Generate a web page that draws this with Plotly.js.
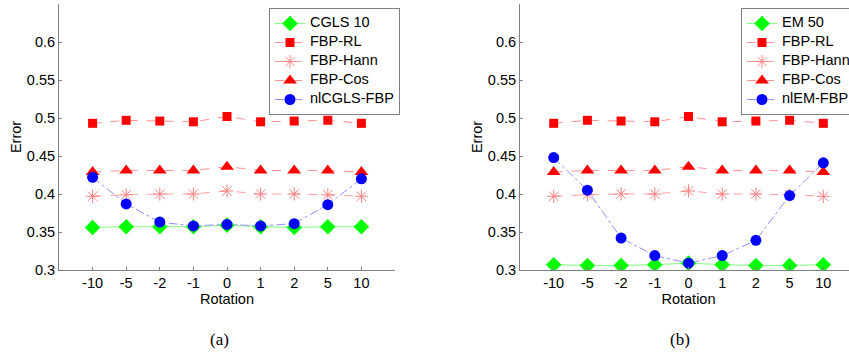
<!DOCTYPE html>
<html>
<head>
<meta charset="utf-8">
<script src="https://cdn.plot.ly/plotly-3.0.1.min.js"></script>
<style>
html,body{margin:0;padding:0;overflow:hidden;background:#fff;}
#chart{width:860px;height:354px;}
</style>
</head>
<body>
<div id="chart"></div>
<script>
const rotations = ['-10','-5','-2','-1','0','1','2','5','10'];

// Panel (a)
const namesA   = ['CGLS 10','FBP-RL','FBP-Hann','FBP-Cos','nlCGLS-FBP'];
const cgls10   = [0.356,0.357,0.357,0.357,0.359,0.357,0.356,0.357,0.357];
const fbpRL_a  = [0.493,0.497,0.496,0.495,0.502,0.495,0.496,0.497,0.493];
const fbpHann_a= [0.397,0.399,0.400,0.400,0.404,0.400,0.400,0.399,0.397];
const fbpCos_a = [0.429,0.431,0.431,0.431,0.436,0.431,0.431,0.431,0.429];
const nlCGLS   = [0.422,0.387,0.363,0.358,0.360,0.358,0.361,0.386,0.420];

// Panel (b)
const namesB   = ['EM 50','FBP-RL','FBP-Hann','FBP-Cos','nlEM-FBP'];
const em50     = [0.307,0.306,0.306,0.307,0.309,0.307,0.306,0.306,0.307];
const fbpRL_b  = [0.493,0.497,0.496,0.495,0.502,0.495,0.496,0.497,0.493];
const fbpHann_b= [0.397,0.399,0.400,0.400,0.404,0.400,0.400,0.399,0.397];
const fbpCos_b = [0.429,0.431,0.431,0.431,0.436,0.431,0.431,0.431,0.429];
const nlEM     = [0.448,0.405,0.342,0.319,0.309,0.319,0.339,0.398,0.441];

function series(panel, names, data) {
  const xa = panel === 0 ? 'x' : 'x2';
  const ya = panel === 0 ? 'y' : 'y2';
  const lg = panel === 0 ? 'legend' : 'legend2';
  const styles = [
    {line:{color:'#80ff80',width:1,dash:'solid'}, marker:{symbol:'diamond',size:12,color:'#00ff00'}},
    {line:{color:'#ff9090',width:1,dash:'dash'}, marker:{symbol:'square',size:9,color:'#ff0000'}},
    {line:{color:'#ffa0a0',width:1,dash:'dash'}, marker:{symbol:'asterisk-open',size:11,color:'#ff8080',line:{color:'#ff8080',width:1}}},
    {line:{color:'#ff9090',width:1,dash:'dash'}, marker:{symbol:'triangle-up',size:12,color:'#ff0000'}},
    {line:{color:'#9090ff',width:1,dash:'dashdot'}, marker:{symbol:'circle',size:11,color:'#0000ff'}}
  ];
  return data.map((d,i)=>({
    type:'scatter', mode:'lines+markers', x:rotations, y:d,
    name:'<span style="font-size:14.5px">' + names[i] + '</span>',
    xaxis:xa, yaxis:ya, legend:lg, line:styles[i].line, marker:styles[i].marker
  }));
}

const traces = [].concat(
  series(0, namesA, [cgls10,fbpRL_a,fbpHann_a,fbpCos_a,nlCGLS]),
  series(1, namesB, [em50,fbpRL_b,fbpHann_b,fbpCos_b,nlEM])
);

const W = 860, H = 354;
const tickFont = {family:'Liberation Sans, Arial, sans-serif', size:14.5, color:'#000'};
function xax(domain, anchor){
  return {domain:domain, anchor:anchor, type:'category', range:[-1,9],
    showline:true, linecolor:'#808080', linewidth:1, mirror:false,
    ticks:'inside', ticklen:3, tickcolor:'#808080', showgrid:false, zeroline:false,
    tickfont:tickFont, title:{text:'Rotation', font:tickFont, standoff:1}};
}
function yax(anchor){
  return {domain:[(H-270)/H,(H-4)/H], anchor:anchor, range:[0.3,0.65],
    tickvals:[0.3,0.35,0.4,0.45,0.5,0.55,0.6], ticktext:['0.3','0.35','0.4','0.45','0.5','0.55','0.6'],
    showline:true, linecolor:'#808080', linewidth:1, mirror:false,
    ticks:'inside', ticklen:3, tickcolor:'#808080', showgrid:false, zeroline:false,
    tickfont:tickFont, title:{text:'Error', font:tickFont, standoff:1}};
}
const legFont = {family:'Liberation Sans, Arial, sans-serif', size:10, color:'#000'};
const layout = {
  width:W, height:H, margin:{l:0,r:0,t:0,b:0},
  paper_bgcolor:'#fff', plot_bgcolor:'#fff', showlegend:true,
  xaxis: xax([59/W,395/W],'y'),
  yaxis: yax('x'),
  xaxis2: xax([520/W,857/W],'y2'),
  yaxis2: yax('x2'),
  legend:{x:269/W, y:(H-8)/H, xanchor:'left', yanchor:'top', bgcolor:'#fff',
    bordercolor:'#808080', borderwidth:1, font:legFont, tracegroupgap:0, itemwidth:30},
  legend2:{x:741/W, y:(H-8)/H, xanchor:'left', yanchor:'top', bgcolor:'#fff',
    bordercolor:'#808080', borderwidth:1, font:legFont, tracegroupgap:0, itemwidth:30},
  annotations:[
    {xref:'paper', yref:'paper', x:219/W, y:(H-339)/H, text:'(a)', showarrow:false,
     xanchor:'center', yanchor:'middle', font:{family:'Liberation Serif, Times New Roman, serif', size:17, color:'#000'}},
    {xref:'paper', yref:'paper', x:680/W, y:(H-339)/H, text:'(b)', showarrow:false,
     xanchor:'center', yanchor:'middle', font:{family:'Liberation Serif, Times New Roman, serif', size:17, color:'#000'}}
  ]
};
Plotly.newPlot('chart', traces, layout, {displayModeBar:false, staticPlot:true});
</script>
</body>
</html>
